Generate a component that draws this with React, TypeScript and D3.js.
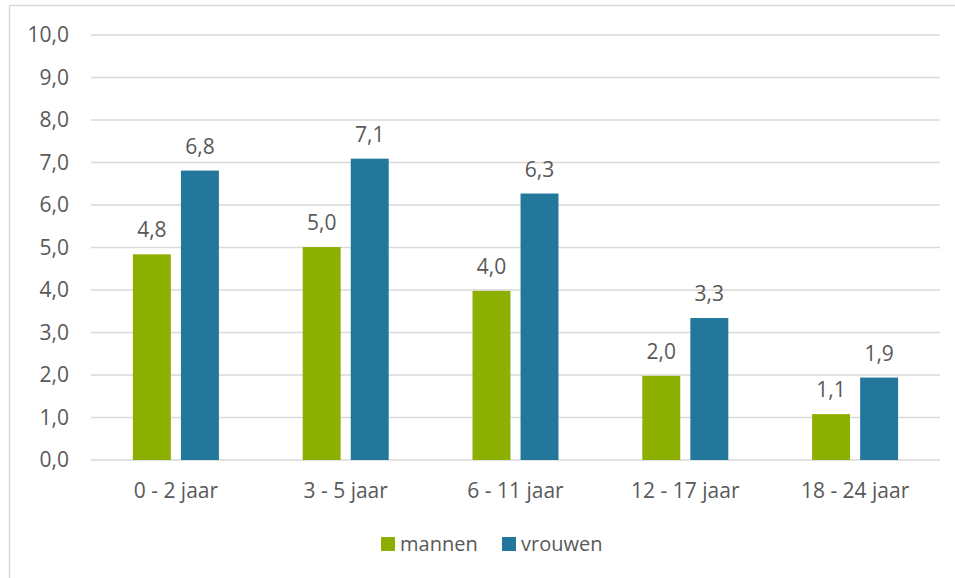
import React, { useEffect, useRef } from 'react';
import * as d3 from 'd3';

const categories = ['0 - 2 jaar', '3 - 5 jaar', '6 - 11 jaar', '12 - 17 jaar', '18 - 24 jaar'];
const mannen = [4.84, 5.01, 3.98, 1.98, 1.08];
const vrouwen = [6.81, 7.09, 6.27, 3.34, 1.94];
const seriesNames = ['mannen', 'vrouwen'];
const yTicks = [0, 1, 2, 3, 4, 5, 6, 7, 8, 9, 10];

const colors = ['#8db000', '#23779b'];
const font = '"Open Sans", "Noto Sans", sans-serif';
const textColor = '#595959';

export default function App() {
    const ref = useRef<SVGSVGElement>(null);

    useEffect(() => {
        const svg = d3.select(ref.current);
        svg.selectAll('*').remove();

        // frame (top + left edge of the chart area)
        svg.append('line').attr('x1', 9.5).attr('x2', 955).attr('y1', 5.5).attr('y2', 5.5)
            .attr('stroke', '#d9d9d9').attr('stroke-width', 1.5);
        svg.append('line').attr('x1', 9.5).attr('x2', 9.5).attr('y1', 5.5).attr('y2', 578)
            .attr('stroke', '#d9d9d9').attr('stroke-width', 1.5);

        const left = 91;
        const right = 940;
        const top = 35;
        const bottom = 460;

        const x = d3.scaleBand().domain(categories).range([left, right]);
        const y = d3.scaleLinear().domain([0, 10]).range([bottom, top]);
        const inner = d3.scaleBand().domain(seriesNames).range([0, 86]).paddingInner(0.21);

        // gridlines
        svg.append('g')
            .selectAll('line')
            .data(yTicks)
            .enter()
            .append('line')
            .attr('x1', left)
            .attr('x2', right)
            .attr('y1', (d) => y(d))
            .attr('y2', (d) => y(d))
            .attr('stroke', '#d9d9d9')
            .attr('stroke-width', 1.5);

        // y tick labels
        svg.append('g')
            .selectAll('text')
            .data(yTicks)
            .enter()
            .append('text')
            .attr('x', 69)
            .attr('y', (d) => y(d))
            .attr('dy', '0.35em')
            .attr('text-anchor', 'end')
            .attr('font-family', font)
            .attr('font-size', 21)
            .attr('fill', textColor)
            .text((d) => d.toFixed(1).replace('.', ','));

        const series = [mannen, vrouwen];
        series.forEach((values, si) => {
            const g = svg.append('g');
            const offset = (x.bandwidth() - 86) / 2 + (inner(seriesNames[si]) ?? 0);
            g.selectAll('rect')
                .data(values)
                .enter()
                .append('rect')
                .attr('x', (d, i) => (x(categories[i]) ?? 0) + offset)
                .attr('y', (d) => y(d))
                .attr('width', inner.bandwidth())
                .attr('height', (d) => bottom - y(d))
                .attr('fill', colors[si]);

            g.selectAll('text')
                .data(values)
                .enter()
                .append('text')
                .attr('x', (d, i) => (x(categories[i]) ?? 0) + offset + inner.bandwidth() / 2)
                .attr('y', (d) => y(d) - 17)
                .attr('text-anchor', 'middle')
                .attr('font-family', font)
                .attr('font-size', 21)
                .attr('fill', textColor)
                .text((d) => d.toFixed(1).replace('.', ','));
        });

        // category labels
        svg.append('g')
            .selectAll('text')
            .data(categories)
            .enter()
            .append('text')
            .attr('x', (d) => (x(d) ?? 0) + x.bandwidth() / 2)
            .attr('y', 498)
            .attr('text-anchor', 'middle')
            .attr('font-family', font)
            .attr('font-size', 21)
            .attr('fill', textColor)
            .text((d) => d);

        // legend
        const legendX = [381, 502];
        seriesNames.forEach((name, i) => {
            svg.append('rect')
                .attr('x', legendX[i])
                .attr('y', 537)
                .attr('width', 14)
                .attr('height', 14)
                .attr('fill', colors[i]);
            svg.append('text')
                .attr('x', legendX[i] + 19)
                .attr('y', 551)
                .attr('font-family', font)
                .attr('font-size', 20)
                .attr('fill', textColor)
                .text(name);
        });
    }, []);

    return (
        <svg
            ref={ref}
            width={955}
            height={578}
            style={{ position: 'absolute', left: 0, top: 0, background: '#fff' }}
        />
    );
}
